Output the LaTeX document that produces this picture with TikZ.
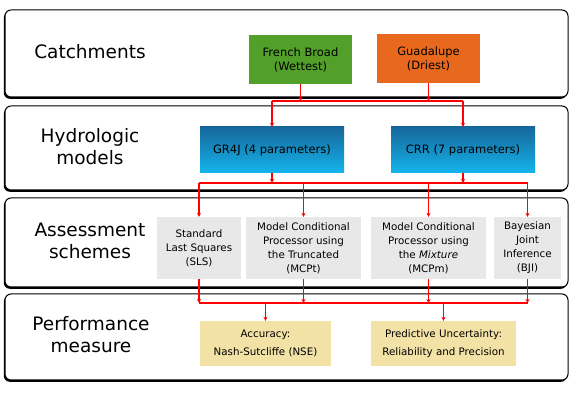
\documentclass[tikz,border=0pt]{standalone}
\usepackage{fontspec}
\setmainfont{DejaVu Sans}
\usetikzlibrary{shadows,arrows.meta}

\definecolor{wetgreen}{HTML}{52A02A}
\definecolor{dryorange}{HTML}{E8691E}
\definecolor{modeltop}{HTML}{16679A}
\definecolor{modelbot}{HTML}{14B4EC}
\definecolor{schemegray}{HTML}{E8E8E8}
\definecolor{measuretan}{HTML}{F3E2A6}

\tikzset{
  panel/.style={draw=black, line width=1pt, rounded corners=6pt, fill=white,
    drop shadow={shadow xshift=-1.2pt, shadow yshift=-1.8pt, fill=black, opacity=1}},
  paneltitle/.style={font=\fontsize{18.5}{22}\selectfont, align=center},
  box/.style={align=center, font=\fontsize{10.3}{14}\selectfont, inner sep=1pt},
  bigbox/.style={box, font=\fontsize{11.5}{14}\selectfont},
  link/.style={red, line width=1.4pt, -{Stealth[length=4pt,width=4pt]}},
  busline/.style={red, line width=1.4pt}
}

\begin{document}
\begin{tikzpicture}[x=1pt,y=-1pt]
  \useasboundingbox (0,0) rectangle (571,395);

  % the four rows
  \draw[panel] (5,10) rectangle (568,97);
  \draw[panel] (5,106) rectangle (568,190);
  \draw[panel] (5,198) rectangle (568,287);
  \draw[panel] (5,294) rectangle (568,380);

  \node[paneltitle] (tcatch) at (90,52) {Catchments};
  \node[paneltitle] (tmodel) at (90,147) {Hydrologic\\models};
  \node[paneltitle] (tscheme) at (90,241) {Assessment\\schemes};
  \node[paneltitle] (tmeasure) at (91,335) {Performance\\measure};

  % catchments
  \node[bigbox, fill=wetgreen, minimum width=103pt, minimum height=49pt] (fb) at (300.5,59.5) {French Broad\\(Wettest)};
  \node[bigbox, fill=dryorange, minimum width=103pt, minimum height=49pt] (gu) at (428.5,58.5) {Guadalupe\\(Driest)};

  % models
  \node[bigbox, top color=modeltop, bottom color=modelbot, minimum width=144pt, minimum height=46pt] (gr4j) at (272,150) {GR4J (4 parameters)};
  \node[bigbox, top color=modeltop, bottom color=modelbot, minimum width=144pt, minimum height=46pt] (crr) at (463,150) {CRR (7 parameters)};

  % schemes
  \node[box, fill=schemegray, minimum width=84pt, minimum height=62pt] (sls) at (199,248) {Standard\\Last Squares\\(SLS)};
  \node[box, fill=schemegray, minimum width=115pt, minimum height=62pt] (mcpt) at (303.5,248) {Model Conditional\\Processor using\\the Truncated\\(MCPt)};
  \node[box, fill=schemegray, minimum width=115pt, minimum height=62pt] (mcpm) at (428.5,248) {Model Conditional\\Processor using\\the \emph{Mixture}\\(MCPm)};
  \node[box, fill=schemegray, minimum width=67pt, minimum height=62pt] (bji) at (527.5,248) {Bayesian\\Joint\\Inference\\(BJI)};

  % measures
  \node[box, fill=measuretan, minimum width=131pt, minimum height=45pt] (acc) at (265.5,343.5) {Accuracy:\\[4pt]Nash-Sutcliffe (NSE)};
  \node[box, fill=measuretan, minimum width=145pt, minimum height=45pt] (unc) at (443.5,343.5) {Predictive Uncertainty:\\[4pt]Reliability and Precision};

  % buses
  \coordinate (busA) at (0,101);
  \coordinate (busB) at (0,183);
  \coordinate (busC) at (0,303);

  \draw[busline] (gr4j.north |- busA) -- (crr.north |- busA);
  \draw[link] (fb.south) -- (fb.south |- busA);
  \draw[link] (gu.south) -- (gu.south |- busA);
  \draw[link] (gr4j.north |- busA) -- (gr4j.north);
  \draw[link] (crr.north |- busA) -- (crr.north);

  \draw[busline] (sls.north |- busB) -- (bji.north |- busB);
  \draw[link] (gr4j.south) -- (gr4j.south |- busB);
  \draw[link] (crr.south) -- (crr.south |- busB);
  \foreach \s in {sls,mcpt,mcpm,bji}
    \draw[link] (\s.north |- busB) -- (\s.north);

  \draw[busline] (sls.south |- busC) -- (bji.south |- busC);
  \foreach \s in {sls,mcpt,mcpm,bji}
    \draw[link] (\s.south) -- (\s.south |- busC);
  \draw[link] (acc.north |- busC) -- (acc.north);
  \draw[link] (unc.north |- busC) -- (unc.north);
\end{tikzpicture}
\end{document}
